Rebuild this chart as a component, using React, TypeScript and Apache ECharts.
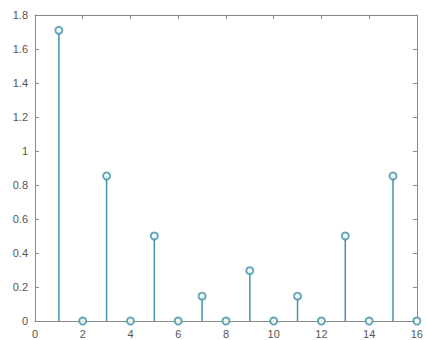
import React, { useEffect, useRef } from "react";
import * as echarts from "echarts";

const xValues = [1, 2, 3, 4, 5, 6, 7, 8, 9, 10, 11, 12, 13, 14, 15, 16];
const yValues = [1.71, 0, 0.853, 0, 0.5, 0, 0.146, 0, 0.296, 0, 0.146, 0, 0.5, 0, 0.853, 0];

const stemColor = "#3f93a8";
const axisColor = "#8a8a8a";
const labelColor = "#555555";

export default function App() {
  const ref = useRef<HTMLDivElement>(null);
  useEffect(() => {
    if (!ref.current) return;
    const chart = echarts.init(ref.current, undefined, { renderer: "svg" });
    const pts = xValues.map((x, i) => [x, yValues[i]]);
    const axisCommon = {
      axisLine: { show: true, onZero: false, lineStyle: { color: axisColor, width: 1 } },
      axisTick: { show: true, inside: true, length: 4, lineStyle: { color: axisColor } },
      splitLine: { show: false },
    };
    chart.setOption({
      animation: false,
      backgroundColor: "#ffffff",
      grid: { left: 35, right: 5, top: 15, bottom: 19, containLabel: false },
      xAxis: [
        {
          type: "value",
          min: 0,
          max: 16,
          interval: 2,
          position: "bottom",
          ...axisCommon,
          axisLabel: { color: labelColor, fontSize: 11, margin: 7, fontFamily: "Liberation Sans, Arial, sans-serif" },
        },
        {
          type: "value",
          min: 0,
          max: 16,
          interval: 2,
          position: "top",
          ...axisCommon,
          axisLabel: { show: false },
        },
      ],
      yAxis: [
        {
          type: "value",
          min: 0,
          max: 1.8,
          interval: 0.2,
          position: "left",
          ...axisCommon,
          axisLabel: { color: labelColor, fontSize: 11, margin: 7, fontFamily: "Liberation Sans, Arial, sans-serif" },
        },
        {
          type: "value",
          min: 0,
          max: 1.8,
          interval: 0.2,
          position: "right",
          ...axisCommon,
          axisLabel: { show: false },
        },
      ],
      series: [
        {
          type: "custom",
          data: pts,
          clip: false,
          renderItem: (params: any, api: any) => {
            const x = api.value(0);
            const y = api.value(1);
            const p0 = api.coord([x, 0]);
            const p1 = api.coord([x, y]);
            return {
              type: "line",
              shape: { x1: p0[0], y1: p0[1], x2: p1[0], y2: p1[1] },
              style: { stroke: stemColor, lineWidth: 1.5 },
            };
          },
          z: 2,
        },
        {
          type: "scatter",
          data: pts,
          symbol: "emptyCircle",
          symbolSize: 7,
          clip: false,
          itemStyle: { color: stemColor, borderColor: stemColor, borderWidth: 1.2 },
          z: 3,
        },
      ],
    });
    return () => chart.dispose();
  }, []);
  return (
    <div
      ref={ref}
      style={{ position: "fixed", left: 0, top: 0, width: 426, height: 340, background: "#fff" }}
    />
  );
}
